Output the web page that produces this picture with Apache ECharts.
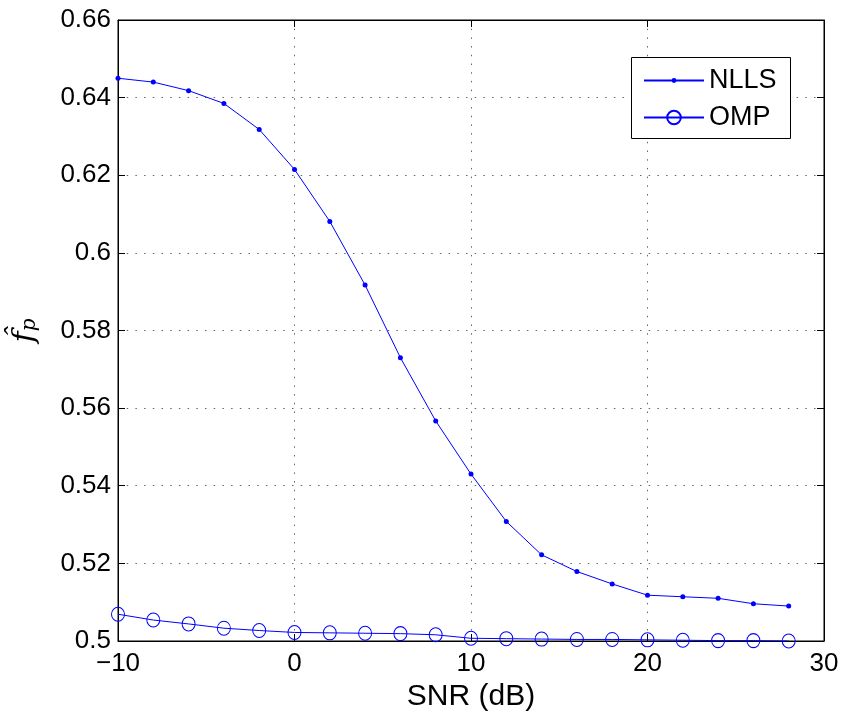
<!DOCTYPE html>
<html><head><meta charset="utf-8">
<script src="https://cdn.jsdelivr.net/npm/echarts@6/dist/echarts.min.js"></script>
<style>html,body{margin:0;padding:0;background:#fff}#c{width:843px;height:717px}</style>
</head><body><div id="c"></div>
<script>
const snr = [-10,-8,-6,-4,-2,0,2,4,6,8,10,12,14,16,18,20,22,24,26,28];
const nlls = [0.645,0.644,0.6418,0.6385,0.6318,0.6215,0.6081,0.5917,0.5730,0.5567,0.5430,0.5308,0.5222,0.5179,0.5147,0.5118,0.5114,0.5110,0.5096,0.5090];
const omp = [0.5069,0.5054,0.5044,0.5033,0.5027,0.5022,0.5021,0.5020,0.5019,0.5016,0.5007,0.5006,0.5005,0.5004,0.5004,0.5003,0.5002,0.5001,0.5001,0.5000];
const seriesNames = ['NLLS','OMP'];

const font = 'Liberation Sans, Arial, Helvetica, sans-serif';
const chart = echarts.init(document.getElementById('c'), null, {renderer:'canvas'});
const gridLine = {show:true, lineStyle:{color:'#666', type:[1.5,7.2], width:1}};
const legendText = {fontFamily:font, fontSize:27, color:'#000'};
chart.setOption({
  animation:false,
  backgroundColor:'#fff',
  grid:{left:118, top:20, width:706, height:621, show:true, borderColor:'#000', borderWidth:1, containLabel:false},
  graphic:[{
    type:'rect', left:631, top:57, z:50,
    shape:{width:159, height:81},
    style:{fill:'#fff', stroke:'#000', lineWidth:1}
  }],
  legend:[{
    orient:'vertical', left:643, top:67, padding:0, z:60,
    itemWidth:60, itemHeight:6, itemGap:8,
    textStyle:legendText,
    data:[seriesNames[0]]
  },{
    orient:'vertical', left:643, top:104, padding:0, z:60,
    itemWidth:60, itemHeight:17, itemGap:8,
    textStyle:legendText,
    data:[seriesNames[1]]
  }],
  xAxis:[{
    type:'value', min:-10, max:30, interval:10,
    axisLine:{show:true, onZero:false, lineStyle:{color:'#000'}},
    axisTick:{show:true, inside:true, length:7, lineStyle:{color:'#000'}},
    axisLabel:{fontFamily:font, fontSize:26, color:'#000', margin:10,
      formatter:v=>String(v).replace('-','\u2212')},
    splitLine:gridLine,
    name:'SNR (dB)', nameLocation:'middle', nameGap:38,
    nameTextStyle:{fontFamily:font, fontSize:30, color:'#000'}
  },{
    type:'value', position:'top', min:-10, max:30, interval:10,
    axisLine:{show:true, onZero:false, lineStyle:{color:'#000'}},
    axisTick:{show:true, inside:true, length:7, lineStyle:{color:'#000'}},
    axisLabel:{show:false}, splitLine:{show:false}
  }],
  yAxis:[{
    type:'value', min:0.5, max:0.66, interval:0.02,
    axisLine:{show:true, onZero:false, lineStyle:{color:'#000'}},
    axisTick:{show:true, inside:true, length:7, lineStyle:{color:'#000'}},
    axisLabel:{fontFamily:font, fontSize:26, color:'#000', margin:7},
    splitLine:gridLine,
    name:'{f|f\u0302}{p|p}', nameLocation:'middle', nameGap:78, nameRotate:90,
    nameTextStyle:{
      rich:{
        f:{fontFamily:'DejaVu Serif, serif', fontStyle:'italic', fontSize:30, color:'#000'},
        p:{fontFamily:'DejaVu Serif, serif', fontStyle:'italic', fontSize:20, color:'#000', verticalAlign:'bottom', padding:[10,0,0,0]}
      }
    }
  },{
    type:'value', position:'right', min:0.5, max:0.66, interval:0.02,
    axisLine:{show:true, onZero:false, lineStyle:{color:'#000'}},
    axisTick:{show:true, inside:true, length:7, lineStyle:{color:'#000'}},
    axisLabel:{show:false}, splitLine:{show:false}
  }],
  series:[{
    name:seriesNames[0], type:'line',
    data:snr.map((x,i)=>[x,nlls[i]]),
    symbol:'circle', symbolSize:5, showAllSymbol:true,
    lineStyle:{color:'#0000ff', width:1},
    itemStyle:{color:'#0000ff', borderWidth:0}
  },{
    name:seriesNames[1], type:'line',
    data:snr.map((x,i)=>[x,omp[i]]),
    symbol:'circle', symbolSize:[13,14], showAllSymbol:true,
    lineStyle:{color:'#0000ff', width:1},
    itemStyle:{color:'rgba(0,0,0,0)', borderColor:'#0000ff', borderWidth:1}
  }]
});
</script></body></html>
